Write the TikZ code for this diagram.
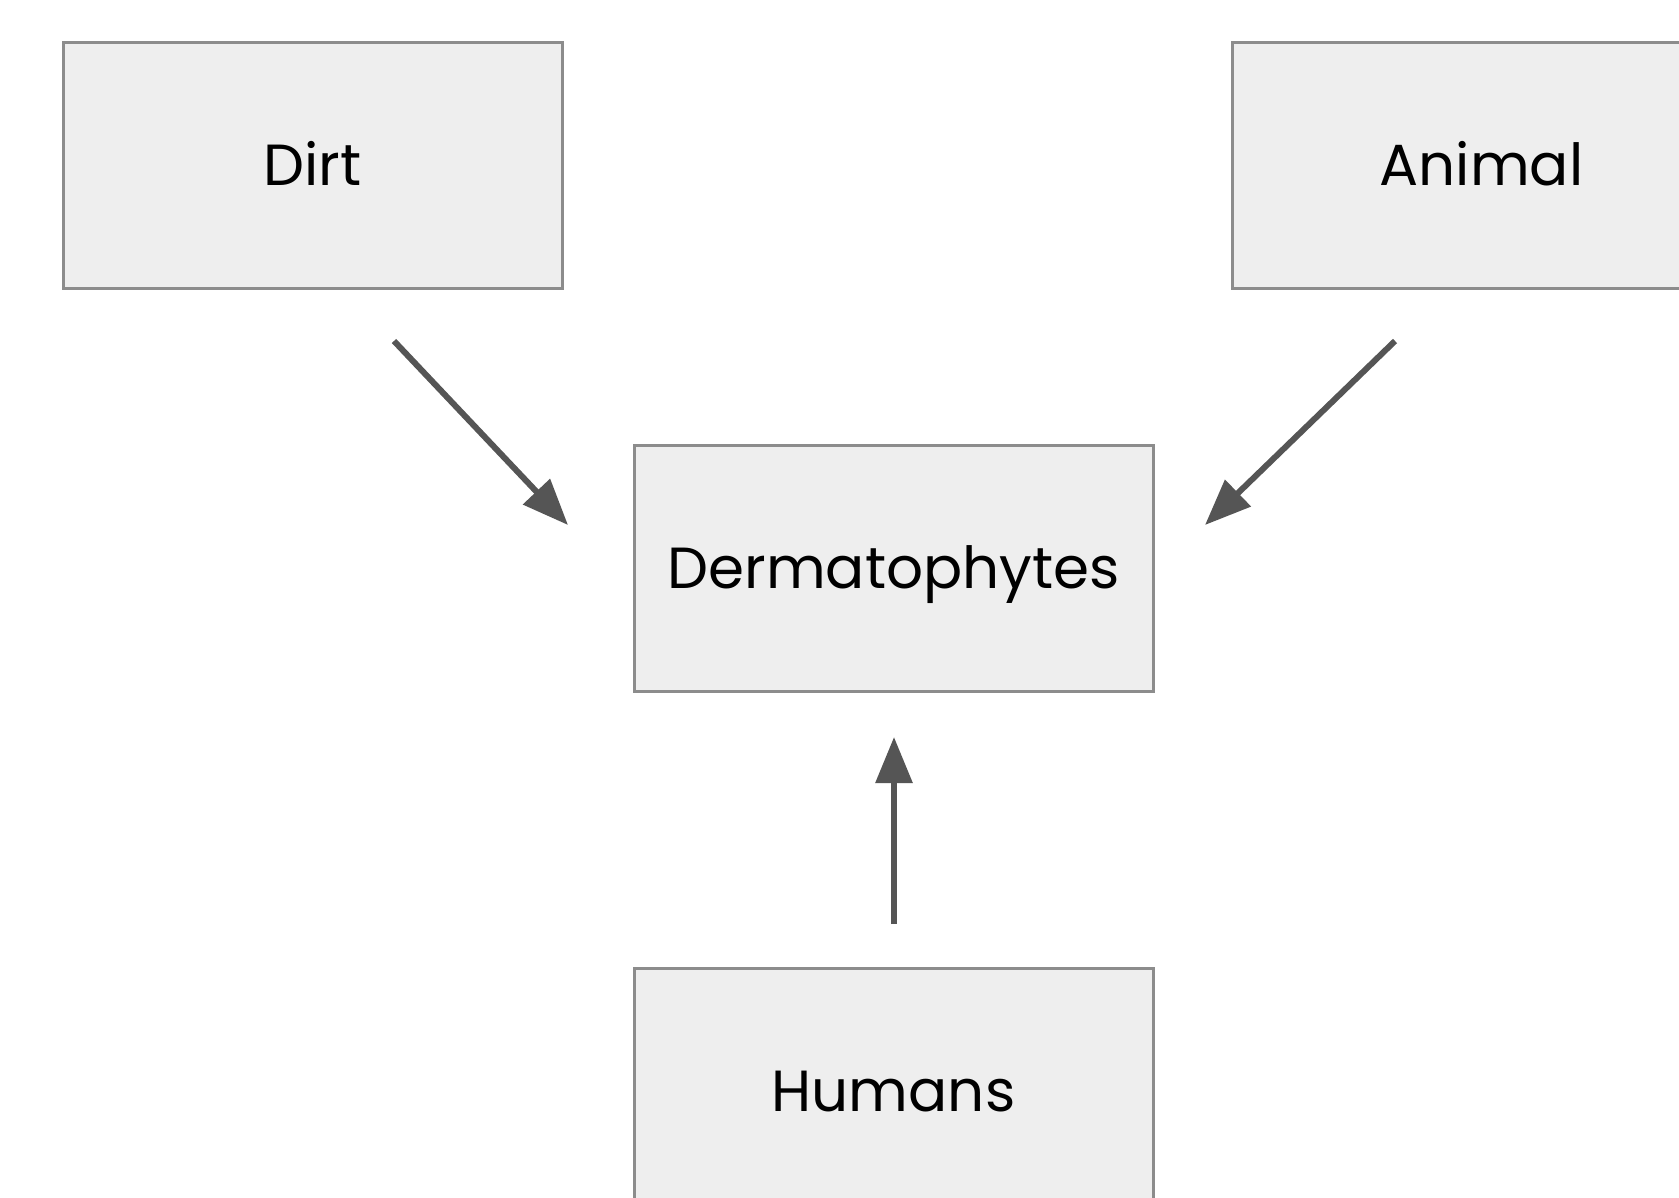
\documentclass[tikz,border=0pt]{standalone}
\usepackage{fontspec}
\setmainfont{Poppins}
\usetikzlibrary{arrows.meta}
\definecolor{boxfill}{HTML}{EEEEEE}
\definecolor{boxline}{HTML}{8C8C8C}
\definecolor{arrowc}{HTML}{555555}
\tikzset{
  srcbox/.style={draw=boxline, line width=3pt, fill=boxfill, minimum width=499pt, minimum height=246pt, inner sep=0pt, text height=41pt, text depth=0pt, font=\fontsize{58}{70}\selectfont, text=black},
  flow/.style={draw=arrowc, line width=6pt, -{Triangle[length=46pt,width=36pt]}}
}
\begin{document}
\begin{tikzpicture}[x=1pt,y=-1pt]
\useasboundingbox (0,0) rectangle (1679,1197);
\clip (0,0) rectangle (1679,1197);
\fill[white] (0,0) rectangle (1679,1197);
\node[srcbox] (dirt) at (312.5,165) {Dirt};
\node[srcbox] (animal) at (1481.5,165) {Animal};
\node[srcbox, minimum width=519pt] (derm) at (893.5,568) {Dermatophytes};
\node[srcbox, minimum width=519pt] (humans) at (893.5,1091) {Humans};
\coordinate (d1) at (394,341);
\coordinate (d2) at (568,525);
\coordinate (a1) at (1395,341);
\coordinate (a2) at (1205,525);
\coordinate (h1) at (894,924);
\coordinate (h2) at (894,737);
\draw[flow] (d1) -- (d2);
\draw[flow] (a1) -- (a2);
\draw[flow] (h1) -- (h2);
\end{tikzpicture}
\end{document}
